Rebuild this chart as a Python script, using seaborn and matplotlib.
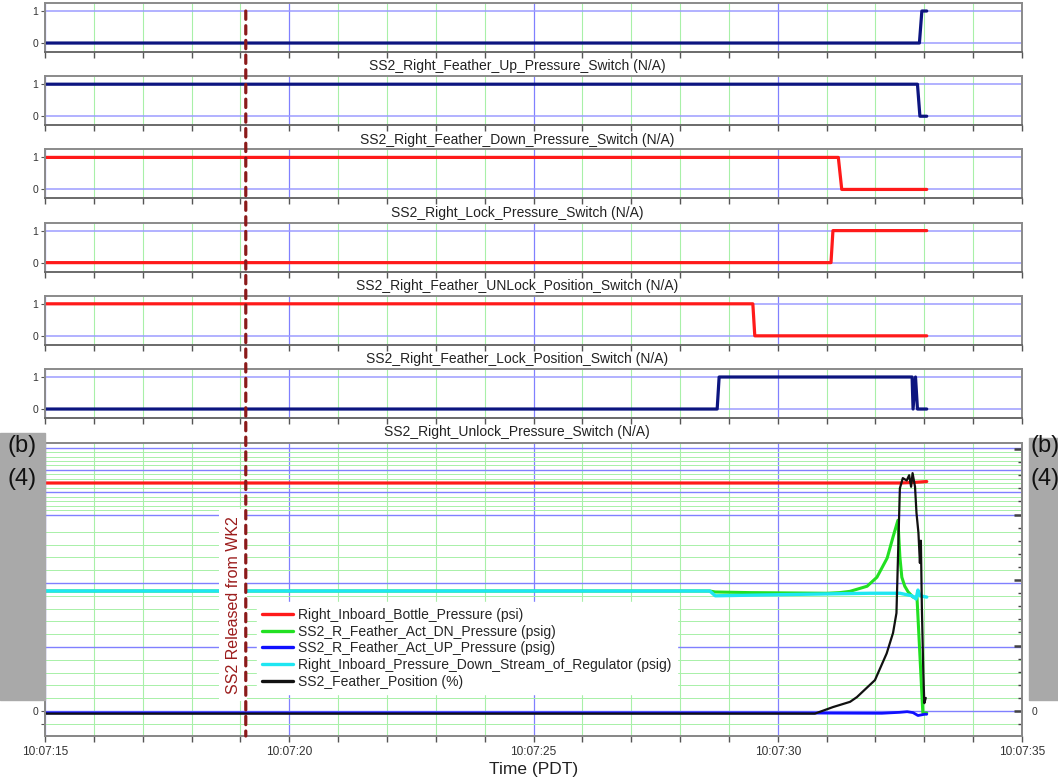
import numpy as np
import matplotlib
matplotlib.use("Agg")
import matplotlib.pyplot as plt
from matplotlib.ticker import MultipleLocator, FixedLocator, FuncFormatter
from matplotlib.patches import ConnectionPatch, Rectangle
import seaborn as sns

# time axis: seconds after 10:07:00 PDT
RELEASE_T = 19.11

# --- discrete switches (0/1) ---
up_sw_t = [15.0, 32.90, 32.95, 33.05]
up_sw_v = [0, 0, 1, 1]
dn_sw_t = [15.0, 32.86, 32.91, 33.05]
dn_sw_v = [1, 1, 0, 0]
lock_sw_t = [15.0, 31.24, 31.31, 33.05]
lock_sw_v = [1, 1, 0, 0]
unlock_pos_t = [15.0, 31.09, 31.13, 33.05]
unlock_pos_v = [0, 0, 1, 1]
lock_pos_t = [15.0, 29.49, 29.53, 33.05]
lock_pos_v = [1, 1, 0, 0]
unlock_sw_t = [15.0, 28.76, 28.80, 32.75, 32.77, 32.82, 32.86, 33.05]
unlock_sw_v = [0, 0, 1, 1, 0, 1, 0, 0]

panel_names = [
    "SS2_Right_Feather_Up_Pressure_Switch (N/A)",
    "SS2_Right_Feather_Down_Pressure_Switch (N/A)",
    "SS2_Right_Lock_Pressure_Switch (N/A)",
    "SS2_Right_Feather_UNLock_Position_Switch (N/A)",
    "SS2_Right_Feather_Lock_Position_Switch (N/A)",
    "SS2_Right_Unlock_Pressure_Switch (N/A)",
]

# --- pressures (left axis, broken scale, units not shown) ---
bottle_t = [15.0, 32.50, 32.75, 33.05]
bottle_v = [1914, 1914, 1935, 1980]
act_dn_t = [15.0, 28.61, 28.72, 29.43, 31.01, 31.27, 31.48, 31.83, 32.03, 32.24,
            32.36, 32.46, 32.50, 32.54, 32.60, 32.67, 32.77, 32.85, 32.97, 33.05]
act_dn_v = [187.5, 187.5, 186, 185, 184, 185, 187, 195, 209, 239,
            272, 298, 241, 209, 195, 186, 178, 178, -3, -3]
act_up_t = [15.0, 30.0, 32.13, 32.50, 32.65, 32.77, 32.87, 33.01, 33.05]
act_up_v = [-3, -3, -3.5, -2, -1, -2.5, -7, -5, -5]
regulator_t = [15.0, 28.61, 28.72, 29.43, 31.01, 31.89, 32.50, 32.75, 32.83,
               32.87, 32.91, 33.05]
regulator_v = [187.5, 187.5, 180, 181, 183, 184, 184, 180, 175, 189, 180, 178]

# --- feather position (right axis, %) ---
pos_t = [15.0, 30.76, 31.13, 31.48, 31.62, 31.99, 32.23, 32.36, 32.43, 32.50,
         32.56, 32.64, 32.69, 32.73, 32.76, 32.81, 32.84, 32.88, 32.91, 32.93,
         32.95, 32.98, 33.00, 33.03]
pos_v = [-1, -1, 1.5, 3.5, 5.3, 11.8, 22, 29.8, 37.4, 85,
         88.9, 88, 90, 85.6, 90.8, 85.6, 75.6, 68, 56.5, 65,
         39.7, 14.5, 3, 5]

series_labels = [
    "Right_Inboard_Bottle_Pressure (psi)",
    "SS2_R_Feather_Act_DN_Pressure (psig)",
    "SS2_R_Feather_Act_UP_Pressure (psig)",
    "Right_Inboard_Pressure_Down_Stream_of_Regulator (psig)",
    "SS2_Feather_Position (%)",
]

NAVY = "#0c1580"
RED = "#ff1a1a"
GREEN = "#22e022"
BLUE = "#1010ff"
CYAN = "#1fe6f2"
BLACK = "#111111"
GRID_BLUE = "#8080ff"
GRID_GREEN = "#a8f0a8"
SPINE = "#8a8a8a"
TICKC = "#555555"

sns.set_theme(style="white")
plt.rcParams["font.family"] = ["Liberation Sans", "DejaVu Sans"]

W, H = 1058, 782
fig = plt.figure(figsize=(W / 100, H / 100), dpi=100)


def rect(top_px, bot_px):
    return [45 / W, 1 - bot_px / H, 977 / W, (bot_px - top_px) / H]


def time_fmt(x, pos):
    return "10:07:%02d" % int(round(x))


def x_style(ax):
    ax.set_xlim(15, 35)
    ax.xaxis.set_major_locator(MultipleLocator(5))
    ax.xaxis.set_minor_locator(MultipleLocator(1))
    ax.grid(which="minor", axis="x", color=GRID_GREEN, lw=0.8)
    ax.grid(which="major", axis="x", color=GRID_BLUE, lw=0.9)
    ax.tick_params(axis="x", which="both", bottom=True, direction="out",
                   length=4, width=1, color=TICKC)
    ax.set_axisbelow(True)
    for sp in ax.spines.values():
        sp.set_color(SPINE)
        sp.set_linewidth(1.4)
    ax.spines["bottom"].set_color("#6a6a6a")


switch_t = [up_sw_t, dn_sw_t, lock_sw_t, unlock_pos_t, lock_pos_t, unlock_sw_t]
switch_v = [up_sw_v, dn_sw_v, lock_sw_v, unlock_pos_v, lock_pos_v, unlock_sw_v]
switch_c = [NAVY, NAVY, RED, RED, RED, NAVY]

top_axes = []
for i in range(6):
    top = 3 + 73.2 * i
    ax = fig.add_axes(rect(top, top + 49))
    ax.patch.set_visible(False)
    sns.lineplot(x=switch_t[i], y=switch_v[i], ax=ax, color=switch_c[i],
                 lw=2.3, estimator=None, sort=False)
    x_style(ax)
    ax.set_ylim(-0.28, 1.25)
    ax.yaxis.set_major_locator(FixedLocator([0, 1]))
    ax.grid(which="major", axis="y", color="#9c9cff", lw=1.1)
    ax.tick_params(axis="x", labelbottom=False)
    ax.tick_params(axis="y", left=True, length=3, width=0.8, color=TICKC,
                   labelsize=7.5, labelcolor="#333333", pad=2)
    ax.set_xlabel(panel_names[i], fontsize=10, color="#222222", labelpad=-2.1)
    ax.xaxis.label.set_x(0.483)
    ax.set_ylabel("")
    top_axes.append(ax)

# --- bottom panel with broken left scale ---
BRK = 300.0
K = 0.3484 / 1000.0


def fwd(v):
    v = np.asarray(v, dtype=float)
    return np.where(v <= BRK, v / 100.0, 3.0 + (v - BRK) * K)


def inv(f):
    f = np.asarray(f, dtype=float)
    return np.where(f <= 3.0, f * 100.0, BRK + (f - 3.0) / K)


ax = fig.add_axes(rect(443, 736))
ax.set_yscale("function", functions=(fwd, inv))
ax.set_ylim(-39, 3708)

sns.lineplot(x=bottle_t, y=bottle_v, ax=ax, color=RED, lw=2.3,
             estimator=None, sort=False, label=series_labels[0])
sns.lineplot(x=act_dn_t, y=act_dn_v, ax=ax, color=GREEN, lw=2.2,
             estimator=None, sort=False, label=series_labels[1])
sns.lineplot(x=act_up_t, y=act_up_v, ax=ax, color=BLUE, lw=2.0,
             estimator=None, sort=False, label=series_labels[2])
sns.lineplot(x=regulator_t, y=regulator_v, ax=ax, color=CYAN, lw=2.4,
             estimator=None, sort=False, label=series_labels[3])
if ax.get_legend() is not None:
    ax.get_legend().remove()

x_style(ax)
ax.set_yscale("function", functions=(fwd, inv))
ax.set_ylim(-39, 3708)
ax.yaxis.set_major_locator(FixedLocator([0, 100, 200, 500, 1500, 2500, 3500]))
ax.yaxis.set_minor_locator(FixedLocator(
    list(np.arange(-20, 300, 20)) + list(np.arange(700, 3701, 200))))
ax.yaxis.set_major_formatter(FuncFormatter(lambda v, p: "0" if abs(v) < 1e-6 else ""))
ax.grid(which="minor", axis="y", color=GRID_GREEN, lw=0.7)
ax.grid(which="major", axis="y", color=GRID_BLUE, lw=1.0)
ax.tick_params(axis="y", which="both", left=True, direction="out", length=3,
               width=0.8, color=TICKC, labelsize=7.5, labelcolor="#333333",
               pad=2)
ax.xaxis.set_major_formatter(FuncFormatter(time_fmt))
ax.tick_params(axis="x", labelsize=8.6, labelcolor="#333333", pad=3)
ax.set_xlabel("Time (PDT)", fontsize=12.5, color="#222222", labelpad=3)
ax.set_ylabel("")
ax.text(15, 386, "\u2248", rotation=70, ha="center", va="center",
        fontsize=8, color="#777777", clip_on=False)

ax2 = ax.twinx()
sns.lineplot(x=pos_t, y=pos_v, ax=ax2, color=BLACK, lw=1.6,
             estimator=None, sort=False, label=series_labels[4])
if ax2.get_legend() is not None:
    ax2.get_legend().remove()
ax2.set_ylim(-9.54, 102.3)
ax2.yaxis.set_major_locator(MultipleLocator(25))
ax2.yaxis.set_minor_locator(MultipleLocator(5))
ax2.yaxis.set_major_formatter(FuncFormatter(lambda v, p: "0" if abs(v) < 1e-6 else ""))
ax2.tick_params(axis="y", which="major", right=True, direction="in", length=6,
                width=1.8, color="#444444", labelsize=7.5, labelcolor="#333333",
                pad=7)
ax2.tick_params(axis="y", which="minor", right=True, direction="in", length=3,
                width=1.0, color="#444444")
ax2.set_ylabel("")
for sp in ax2.spines.values():
    sp.set_color(SPINE)
    sp.set_linewidth(1.4)

h1, l1 = ax.get_legend_handles_labels()
h2, l2 = ax2.get_legend_handles_labels()
leg = ax2.legend(h1 + h2, l1 + l2, loc="upper left",
                 bbox_to_anchor=(0.2165, 0.4557), fontsize=10, frameon=True,
                 facecolor="white", edgecolor="white", framealpha=1,
                 fancybox=False, handlelength=2.2, handletextpad=0.4,
                 labelspacing=0.19, borderpad=0.4, borderaxespad=0)
for lh in leg.get_lines():
    lh.set_linewidth(2.4)

ax2.text(18.85, 40.5, "SS2 Released from WK2", rotation=90, ha="center",
         va="center", fontsize=11.5, color="#9b1c1c",
         bbox=dict(facecolor="white", edgecolor="none", pad=5))

# release marker spanning all panels
con = ConnectionPatch(xyA=(RELEASE_T, 1.0), coordsA=top_axes[0].transData,
                      xyB=(RELEASE_T, -9.54), coordsB=ax2.transData,
                      color="#8b1a1a", lw=2.3, linestyle=(0, (2.6, 2.0)))
fig.add_artist(con)

# redaction boxes
fig.add_artist(Rectangle((0, 1 - 700 / H), 45 / W, (700 - 433) / H,
                         transform=fig.transFigure, color="#a9a9a9", zorder=5))
fig.add_artist(Rectangle((1029 / W, 1 - 700 / H), (W - 1029) / W, (700 - 438) / H,
                         transform=fig.transFigure, color="#a9a9a9", zorder=5))
for tx, ha, x0 in [("(b)", "center", 22 / W), ("(b)", "left", 1031 / W)]:
    fig.text(x0, 1 - 446 / H, tx, ha=ha, va="center", fontsize=17,
             color="#111111", zorder=6)
for tx, ha, x0 in [("(4)", "center", 22 / W), ("(4)", "left", 1031 / W)]:
    fig.text(x0, 1 - 479 / H, tx, ha=ha, va="center", fontsize=17,
             color="#111111", zorder=6)

fig.savefig("out.png", dpi=100)
